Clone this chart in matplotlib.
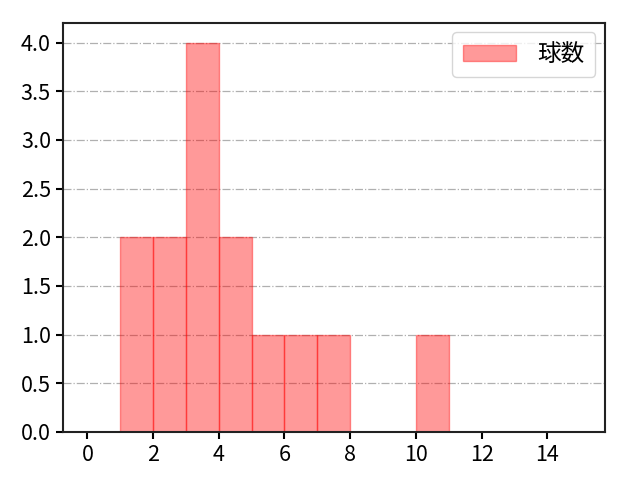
import numpy as np
import matplotlib
matplotlib.use("Agg")
import matplotlib.pyplot as plt

plt.rcParams['font.family'] = ['Noto Sans CJK JP', 'DejaVu Sans']

# 球数ごとの観測値 (ヒストグラムの元データ)
pitches = [1, 1, 2, 2, 3, 3, 3, 3, 4, 4, 5, 6, 7, 10]
bins = np.arange(0, 16)
label = '球数'

fig = plt.figure(figsize=(6.4, 4.8), dpi=100)
ax = fig.add_axes([0.098, 0.1, 0.847, 0.852])
ax.hist(pitches, bins=bins, color='red', alpha=0.4, edgecolor='red', label=label)
ax.set_xlim(-0.75, 15.75)
ax.set_ylim(0, 4.2)
ax.set_xticks(np.arange(0, 15, 2))
ax.set_yticks(np.arange(0, 4.01, 0.5))
ax.yaxis.grid(True, ls='-.', color='#b0b0b0', lw=0.9)
ax.set_axisbelow(True)
ax.tick_params(labelsize=15.5, width=1.5, length=5)
for s in ax.spines.values():
    s.set_linewidth(1.5)
    s.set_color('#222222')
ax.legend(loc='upper right', fontsize=17, handlelength=2.25, handletextpad=0.9,
          borderpad=0.45, borderaxespad=0.4)
fig.savefig('out.png', dpi=100)
